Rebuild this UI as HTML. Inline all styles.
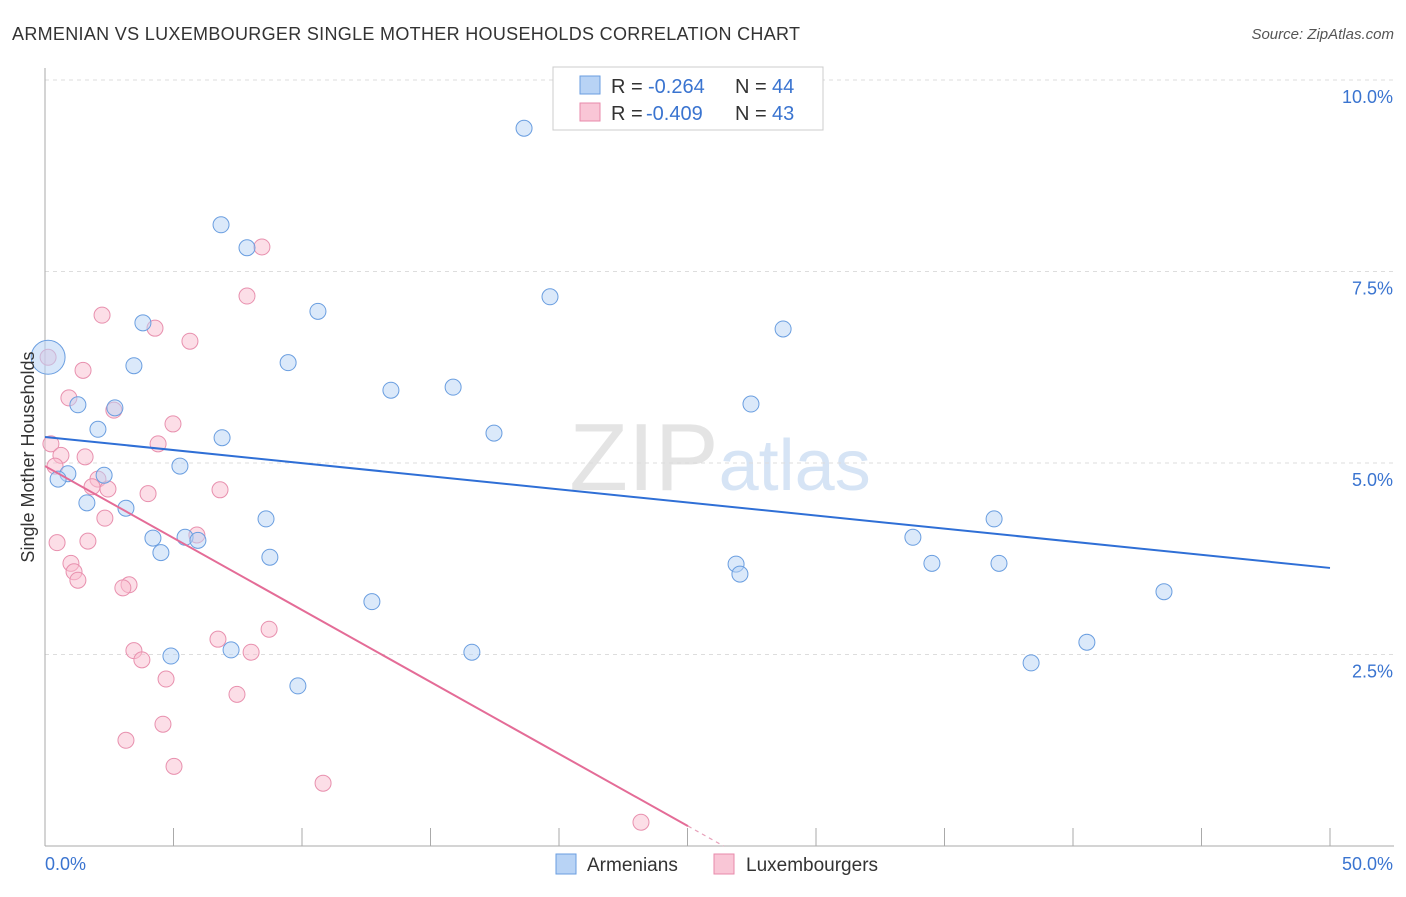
<!DOCTYPE html>
<html><head><meta charset="utf-8"><style>
body{margin:0;background:#fff;font-family:"Liberation Sans",sans-serif}
svg text{font-family:"Liberation Sans",sans-serif}
</style></head><body>
<svg id="c" width="1406" height="892">
<text x="12" y="40" font-size="18" fill="#333" textLength="788">ARMENIAN VS LUXEMBOURGER SINGLE MOTHER HOUSEHOLDS CORRELATION CHART</text>
<text x="1394" y="39" font-size="15" fill="#555" text-anchor="end" font-style="italic">Source: ZipAtlas.com</text>
<text x="720" y="490" font-size="96" fill="#e4e4e4" text-anchor="middle" font-family="Liberation Serif">ZIP<tspan fill="#d6e4f5" font-family="Liberation Sans" font-size="72">atlas</tspan></text>
<g id="grid"></g><g id="axes"></g><g id="pts"></g><g id="lines"></g>
<text transform="translate(34,457) rotate(-90)" font-size="18" fill="#333" text-anchor="middle">Single Mother Households</text>
<g>
<rect x="553" y="67" width="270" height="63" fill="#fff" stroke="#ccc"/>
<rect x="580" y="76" width="20" height="18" fill="#b8d3f5" stroke="#6a9ee0"/>
<text x="611" y="93" font-size="20" fill="#333">R =</text>
<text x="648" y="93" font-size="20" fill="#3a74d0">-0.264</text>
<text x="735" y="93" font-size="20" fill="#333">N =</text>
<text x="772" y="93" font-size="20" fill="#3a74d0">44</text>
<rect x="580" y="103" width="20" height="18" fill="#f9c6d6" stroke="#e88aab"/>
<text x="611" y="120" font-size="20" fill="#333">R =</text>
<text x="646" y="120" font-size="20" fill="#3a74d0">-0.409</text>
<text x="735" y="120" font-size="20" fill="#333">N =</text>
<text x="772" y="120" font-size="20" fill="#3a74d0">43</text>
</g>
<g>
<rect x="556" y="854" width="20" height="20" fill="#b8d3f5" stroke="#6a9ee0"/>
<text x="587" y="871" font-size="19" fill="#333">Armenians</text>
<rect x="714" y="854" width="20" height="20" fill="#f9c6d6" stroke="#e88aab"/>
<text x="746" y="871" font-size="19" fill="#333">Luxembourgers</text>
</g>
</svg>
<script>
const yTicks=[2.5,5.0,7.5,10.0];
const blueX=[18.64,6.85,7.86,19.65,10.62,3.81,28.72,3.46,9.46,13.46,15.88,1.28,2.72,27.47,2.06,17.47,6.89,5.25,2.30,0.89,0.51,1.63,3.15,8.60,36.93,4.20,5.45,5.95,33.77,4.51,8.75,26.89,27.04,34.51,37.12,43.54,12.72,16.61,40.54,4.90,7.24,38.37,9.84];
const blueY=[9.37,8.11,7.81,7.17,6.98,6.83,6.75,6.27,6.31,5.95,5.99,5.76,5.72,5.77,5.44,5.39,5.33,4.96,4.84,4.86,4.79,4.48,4.41,4.27,4.27,4.02,4.03,3.99,4.03,3.83,3.77,3.68,3.55,3.69,3.69,3.32,3.19,2.53,2.66,2.48,2.56,2.39,2.09];
const pinkX=[8.44,7.86,2.22,4.28,5.64,0.12,1.48,0.93,2.68,4.98,0.23,4.40,0.62,1.56,0.39,2.06,1.83,2.45,6.81,4.01,2.33,5.91,1.67,0.47,1.01,1.13,1.28,3.27,3.03,8.72,6.73,3.46,8.02,3.77,4.71,7.47,4.59,3.15,5.02,10.82,23.19];
const pinkY=[7.82,7.18,6.93,6.76,6.59,6.38,6.21,5.85,5.69,5.51,5.25,5.25,5.10,5.08,4.96,4.79,4.69,4.66,4.65,4.60,4.28,4.06,3.98,3.96,3.69,3.58,3.47,3.41,3.37,2.83,2.70,2.55,2.53,2.43,2.18,1.98,1.59,1.38,1.04,0.82,0.31];
const bigX=[0.12], bigY=[6.38];
const blueLine=[5.34,3.63];
const pinkLine=[4.96,0.26,25.02];
const NS="http://www.w3.org/2000/svg";
const sx=v=>45+v/50*1285, sy=v=>846-v/10*766;
function mk(t,a,p){const e=document.createElementNS(NS,t);for(const k in a)e.setAttribute(k,a[k]);document.getElementById(p).appendChild(e);return e;}
yTicks.forEach(t=>{const g=mk('line',{x1:45,x2:1394,y1:sy(t),y2:sy(t),stroke:'#ddd','stroke-dasharray':'4,4'},'grid');


const l=mk('text',{x:1393,y:sy(t)+23,'font-size':18,fill:'#3a74d0','text-anchor':'end'},'grid');l.textContent=t.toFixed(1)+'%';

});
mk('line',{x1:45,x2:45,y1:68,y2:846,stroke:'#aaa'},'axes');
mk('line',{x1:45,x2:1394,y1:846,y2:846,stroke:'#aaa'},'axes');
for(let i=0;i<=10;i++){const t=mk('line',{x1:sx(i*5),x2:sx(i*5),y1:828,y2:846,stroke:'#aaa'},'axes');

}
let a=mk('text',{x:45,y:870,'font-size':18,fill:'#3a74d0'},'axes');a.textContent='0.0%';


a=mk('text',{x:1393,y:870,'font-size':18,fill:'#3a74d0','text-anchor':'end'},'axes');a.textContent='50.0%';


pinkX.forEach((x,i)=>{const c=mk('circle',{cx:sx(x),cy:sy(pinkY[i]),r:8,fill:'rgba(249,190,208,0.5)',stroke:'#e890ae','stroke-width':1},'pts');

});
blueX.forEach((x,i)=>{const c=mk('circle',{cx:sx(x),cy:sy(blueY[i]),r:8,fill:'rgba(184,211,245,0.5)',stroke:'#6a9ee0','stroke-width':1},'pts');

});
bigX.forEach((x,i)=>{const c=mk('circle',{cx:sx(x),cy:sy(bigY[i]),r:17,fill:'rgba(184,211,245,0.55)',stroke:'#6a9ee0'},'pts');

});
let l=mk('line',{x1:sx(0),y1:sy(blueLine[0]),x2:sx(50),y2:sy(blueLine[1]),stroke:'#2f6fd6','stroke-width':2},'lines');


const slope=(pinkLine[1]-pinkLine[0])/pinkLine[2], x0=-pinkLine[0]/slope;
l=mk('line',{x1:sx(0),y1:sy(pinkLine[0]),x2:sx(pinkLine[2]),y2:sy(pinkLine[1]),stroke:'#e46c97','stroke-width':2},'lines');


l=mk('line',{x1:sx(pinkLine[2]),y1:sy(pinkLine[1]),x2:sx(x0),y2:sy(0),stroke:'#e7a0b9','stroke-width':1.2,'stroke-dasharray':'4,4'},'lines');


</script>
</body></html>
